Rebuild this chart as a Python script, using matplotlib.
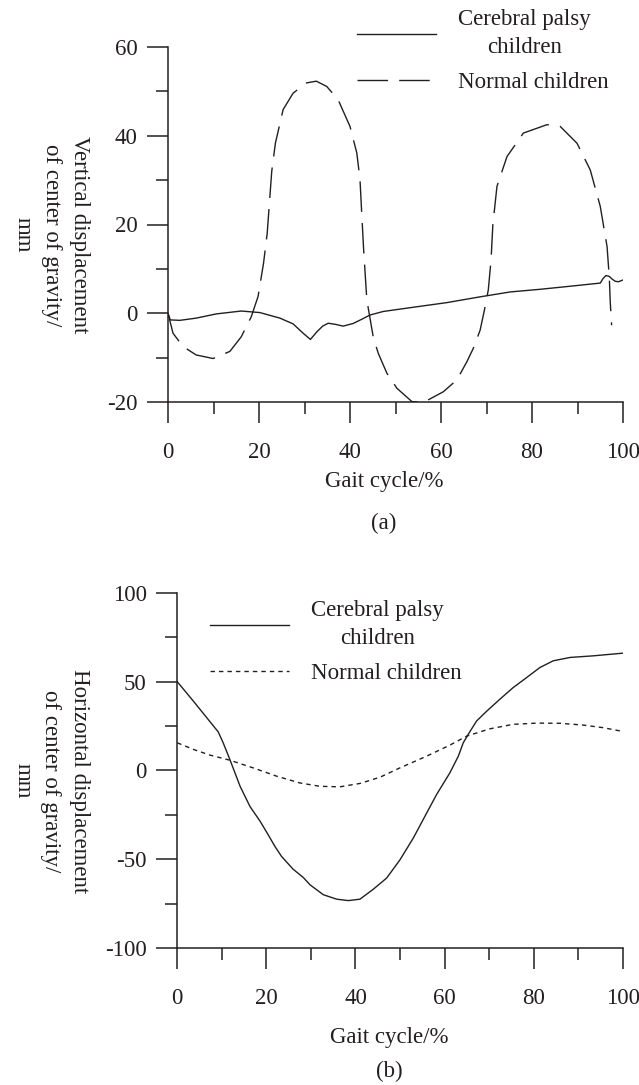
import numpy as np
import matplotlib
matplotlib.use("Agg")
import matplotlib.pyplot as plt
from matplotlib.ticker import MultipleLocator

plt.rcParams["font.family"] = ["Liberation Serif", "DejaVu Serif"]
plt.rcParams["axes.unicode_minus"] = False

INK = "#231f20"
FS = 16.5

# (a) vertical displacement of centre of gravity, mm
cp_a_x = [0, 0.5, 2.6, 6.2, 10.6, 16.1, 20.2, 24.6, 27.5, 29.7, 31.3, 32.7, 34.0, 35.2,
          36.8, 38.5, 40.7, 42.5, 44.4, 47.3, 53.9, 61.3, 68.6, 75.2, 81.8, 88.5, 95.0,
          95.6, 96.25, 97.0, 97.6, 98.3, 99.0, 100]
cp_a_y = [0, -1.5, -1.6, -1.1, -0.15, 0.5, 0.15, -1.1, -2.4, -4.5, -5.9, -4.2, -2.9, -2.25,
          -2.5, -2.9, -2.3, -1.4, -0.4, 0.4, 1.35, 2.4, 3.7, 4.8, 5.4, 6.1, 6.8,
          7.8, 8.5, 8.3, 7.7, 7.2, 7.1, 7.5]

nc_a_x = [0, 1.1, 3.3, 6.2, 9.9, 13.6, 16.1, 18.3, 19.8, 21.0, 21.8, 22.3, 22.8, 23.6,
          25.3, 27.5, 30.4, 32.6, 34.9, 37.4, 40.0, 41.5, 42.2, 42.6, 43.0, 43.7, 45.1,
          46.2, 48.1, 50.3, 53.6, 55.0, 56.5, 60.5, 63.5, 65.7, 67.1, 68.6, 69.5, 70.4,
          71.0, 71.4, 72.3, 74.5, 78.1, 83.3, 86.2, 89.9, 92.8, 95.0, 96.5, 97.0, 97.2, 97.5]
nc_a_y = [0, -4.5, -7.5, -9.4, -10.2, -8.6, -5.3, -0.8, 3.8, 11.3, 18.0, 25.0, 32.0, 38.3,
          45.9, 49.6, 51.9, 52.3, 51.1, 48.1, 42.1, 36.1, 30.1, 22.0, 14.3, 3.0, -5.3,
          -9.0, -13.5, -16.9, -19.9, -20.0, -19.9, -17.7, -15.0, -10.9, -7.9, -3.8, 0.5, 5.3,
          12.0, 20.0, 28.6, 35.3, 40.6, 42.5, 42.1, 38.3, 32.3, 24.1, 15.0, 7.9, 2.5, -2.7]

# (b) horizontal displacement of centre of gravity, mm
cp_b_x = [0, 3.6, 6.6, 9.2, 10.3, 11.8, 14.1, 16.3, 18.6, 20.4, 21.9, 23.4, 26.0, 28.3,
          29.8, 32.8, 35.8, 38.4, 41.0, 44.0, 47.0, 50.0, 53.0, 56.0, 58.2, 61.2, 63.1,
          64.2, 65.3, 67.2, 69.5, 72.4, 75.4, 78.4, 81.4, 84.4, 88.2, 93.4, 100]
cp_b_y = [50, 39.1, 29.8, 21.7, 15.6, 6.2, -8.9, -20.2, -28.6, -36.2, -42.7, -48.4, -55.6, -60.3,
          -64.4, -70.0, -72.5, -73.3, -72.5, -66.9, -60.6, -50.3, -38.0, -23.9, -13.6, -1.3, 8.1,
          15.6, 20.3, 27.9, 33.5, 40.1, 46.7, 52.3, 58.0, 61.8, 63.7, 64.6, 66.1]

nc_b_x = [0, 3.6, 7.3, 11.8, 17.0, 22.3, 27.5, 32.0, 36.5, 41.0, 45.5, 50.0, 56.0, 61.2,
          65.0, 70.2, 75.4, 80.7, 85.9, 91.1, 95.7, 100]
nc_b_y = [15.6, 11.9, 8.7, 5.8, 1.5, -3.2, -7.0, -8.9, -9.2, -7.3, -3.8, 1.5, 8.1, 14.3,
          19.4, 23.5, 26.0, 26.7, 26.6, 25.6, 24.1, 22.0]

LABEL_CP = "Cerebral palsy\nchildren"
LABEL_NC = "Normal children"


def style_axes(ax, ylim, ymajor, yminor):
    ax.set_xlim(0, 100)
    ax.set_ylim(*ylim)
    for s in ["top", "right"]:
        ax.spines[s].set_visible(False)
    for s in ["left", "bottom"]:
        ax.spines[s].set_linewidth(1.1)
        ax.spines[s].set_color(INK)
    ax.xaxis.set_major_locator(MultipleLocator(20))
    ax.xaxis.set_minor_locator(MultipleLocator(10))
    ax.yaxis.set_major_locator(MultipleLocator(ymajor))
    ax.yaxis.set_minor_locator(MultipleLocator(yminor))
    ax.tick_params(which="major", direction="out", length=15, width=1.1, color=INK,
                   labelsize=FS, labelcolor=INK)
    ax.tick_params(which="minor", direction="out", length=8.5, width=1.1, color=INK)
    ax.tick_params(axis="x", which="major", pad=14)
    ax.tick_params(axis="y", which="major", pad=7)


def add_legend(ax, handles, anchor):
    leg = ax.legend(handles, [LABEL_CP, LABEL_NC], loc="upper left",
                    bbox_to_anchor=anchor, bbox_transform=fig.transFigure,
                    frameon=False, fontsize=FS, borderpad=0, borderaxespad=0,
                    handlelength=3.45, handletextpad=0.95, labelspacing=0.58)
    for t in leg.get_texts():
        t.set_multialignment("center")
        t.set_linespacing(1.45)
        t.set_color(INK)
    return leg


fig = plt.figure(figsize=(6.39, 10.85), dpi=100)

# panel (a)
ax1 = fig.add_axes([168 / 639, 1 - 402 / 1085, 455 / 639, 355 / 1085])
l1, = ax1.plot(cp_a_x, cp_a_y, color=INK, lw=1.0)
l2, = ax1.plot(nc_a_x, nc_a_y, color=INK, lw=1.0, linestyle=(0, (22, 8)))
style_axes(ax1, (-20, 60), 20, 10)
ax1.set_xlabel("Gait cycle/%", fontsize=FS, color=INK, va="center")
ax1.xaxis.set_label_coords(0.475, -0.225)
ax1.set_ylabel("Vertical displacement\nof center of gravity/\nmm", fontsize=FS, color=INK,
               rotation=270, va="center", ha="center", multialignment="center",
               linespacing=1.45)
ax1.yaxis.set_label_coords(-0.257, 0.47)
add_legend(ax1, [l1, l2], (357 / 639, 1 - 9 / 1085))
fig.text(384 / 639, 1 - 523 / 1085, "(a)", ha="center", va="center", fontsize=FS, color=INK)

# panel (b)
ax2 = fig.add_axes([177.3 / 639, 1 - 948 / 1085, 445.4 / 639, 355 / 1085])
m1, = ax2.plot(cp_b_x, cp_b_y, color=INK, lw=1.0)
m2, = ax2.plot(nc_b_x, nc_b_y, color=INK, lw=1.0, linestyle=(0, (3.2, 2.9)))
style_axes(ax2, (-100, 100), 50, 25)
ax2.set_xlabel("Gait cycle/%", fontsize=FS, color=INK, va="center")
ax2.xaxis.set_label_coords(0.475, -0.2535)
ax2.set_ylabel("Horizontal displacement\nof center of gravity/\nmm", fontsize=FS, color=INK,
               rotation=270, va="center", ha="center", multialignment="center",
               linespacing=1.45)
ax2.yaxis.set_label_coords(-0.2836, 0.47)
add_legend(ax2, [m1, m2], (210 / 639, 1 - 600 / 1085))
fig.text(389 / 639, 1 - 1071 / 1085, "(b)", ha="center", va="center", fontsize=FS, color=INK)

fig.savefig("out.png", dpi=100)
